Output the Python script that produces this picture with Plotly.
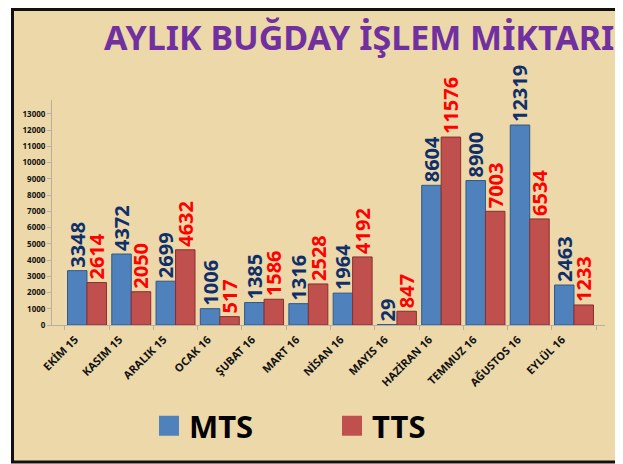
import plotly.graph_objects as go

months = ["EKİM 15", "KASIM 15", "ARALIK 15", "OCAK 16", "ŞUBAT 16", "MART 16",
          "NİSAN 16", "MAYIS 16", "HAZİRAN 16", "TEMMUZ 16", "AĞUSTOS 16", "EYLÜL 16"]
mts = [3348, 4372, 2699, 1006, 1385, 1316, 1964, 29, 8604, 8900, 12319, 2463]
tts = [2614, 2050, 4632, 517, 1586, 2528, 4192, 847, 11576, 7003, 6534, 1233]
y_ticks = list(range(0, 13001, 1000))

BLUE = "#4F81BD"
RED = "#C0504D"
NAVY = "#0F2F6B"
LABEL_RED = "#FF0000"
BG = "#ECD8A8"

fig = go.Figure()
fig.add_trace(go.Bar(
    x=months, y=mts, name="MTS", marker=dict(color=BLUE, line=dict(color="#2E5A8C", width=1)),
    text=[str(v) for v in mts], textposition="outside", textangle=-90,
    textfont=dict(family="Noto Sans", size=20, color=NAVY, weight="bold"),
    cliponaxis=False, constraintext="none", showlegend=False))
fig.add_trace(go.Bar(
    x=months, y=tts, name="TTS", marker=dict(color=RED, line=dict(color="#8C2E2C", width=1)),
    text=[str(v) for v in tts], textposition="outside", textangle=-90,
    textfont=dict(family="Noto Sans", size=20, color=LABEL_RED, weight="bold"),
    cliponaxis=False, constraintext="none", showlegend=False))
# legend entries
for nm, col in (("MTS", BLUE), ("TTS", RED)):
    fig.add_trace(go.Scatter(x=[None], y=[None], mode="markers", name=nm,
                             marker=dict(symbol="square", size=21, color=col,
                                         line=dict(color=col, width=4))))

# page body has an 8px margin: figure occupies page px 8..623, 8..464
OFF = 8
W, H = 623 - OFF, 464 - OFF
L, R = 52 - OFF, 18
T, B = 100 - OFF, 464 - 325
pw, ph = W - L - R, H - T - B

def px2x(p):
    return (p - OFF - L) / pw

def py2y(p):
    return (H - B - (p - OFF)) / ph

fig.add_shape(type="rect", xref="paper", yref="paper",
              x0=px2x(12.5), x1=px2x(640), y0=py2y(462), y1=py2y(9.5),
              fillcolor=BG, line=dict(color="#111111", width=3), layer="below")

fig.add_annotation(text="AYLIK BUĞDAY İŞLEM MİKTARI", xref="paper", yref="paper",
                   x=px2x(616), y=py2y(37), xanchor="right", yanchor="middle",
                   showarrow=False,
                   font=dict(family="Noto Sans", size=34, color="#7030A0", weight="bold"))

fig.update_layout(
    width=W, height=H,
    margin=dict(l=L, r=R, t=T, b=B, autoexpand=False),
    paper_bgcolor="white", plot_bgcolor="rgba(0,0,0,0)",
    barmode="group", bargap=0.12, bargroupgap=0.0,
    font=dict(family="Noto Sans", color="#111111"),
    showlegend=True,
    legend=dict(orientation="h", x=px2x(332), y=py2y(426), xanchor="center", yanchor="middle",
                font=dict(size=31, color="#000000", weight="bold"),
                bgcolor="rgba(0,0,0,0)", itemsizing="trace", entrywidth=138),
)
fig.update_xaxes(range=[-0.79, 11.7], tickangle=-45, showgrid=False,
                 showline=True, linecolor="#B8B0A0", linewidth=1,
                 ticks="outside", tickson="boundaries", tickcolor="#B8B0A0", ticklen=4,
                 ticklabelshift=-12, ticklabelstandoff=3,
                 tickfont=dict(size=11, color="#111111", weight="bold"))
fig.update_yaxes(range=[0, 13860], tickvals=y_ticks, tickformat="d", showgrid=False, zeroline=False,
                 showline=True, linecolor="#B8B0A0", linewidth=1,
                 ticks="outside", tickcolor="#B8B0A0", ticklen=4,
                 tickfont=dict(size=8, color="#111111", weight="bold"))

fig.write_html("out.html")
